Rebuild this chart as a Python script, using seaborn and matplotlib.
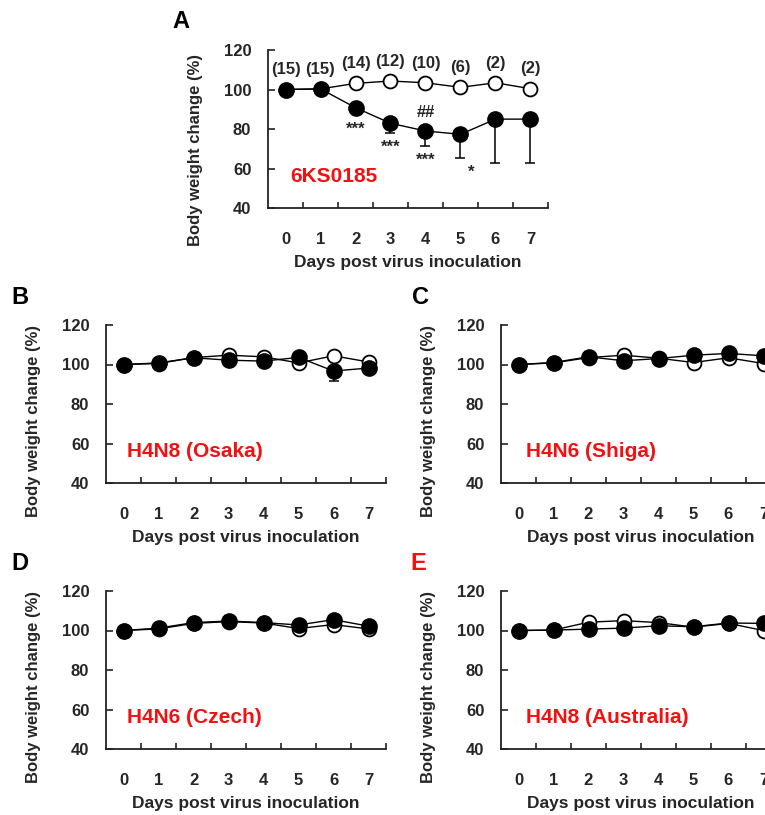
import numpy as np
import pandas as pd
import matplotlib
matplotlib.use("Agg")
import matplotlib.pyplot as plt
import seaborn as sns

# Body weight change (%) of mock (open) and infected (filled) mice
days = [0, 1, 2, 3, 4, 5, 6, 7]

# A - 6KS0185
a_mock = [100, 100.3, 103.1, 104.3, 103.4, 101.1, 103.4, 100.4]
a_inf = [100, 100.3, 90.8, 82.9, 79.0, 77.3, 85.0, 85.0]
a_sd = [0, 0, 1.5, 5.0, 7.5, 12.0, 22.4, 22.0]
a_n = ["(15)", "(15)", "(14)", "(12)", "(10)", "(6)", "(2)", "(2)"]
a_stars = ["", "", "***", "***", "***", "*", "", ""]
a_hash = ["", "", "", "", "##", "", "", ""]

# B - H4N8 (Osaka)
b_mock = [100, 100.5, 103.5, 104.7, 103.9, 100.8, 104.4, 101.3]
b_inf = [100, 100.8, 103.4, 102.2, 101.7, 103.6, 96.7, 98.2]
b_sd = [0, 0, 0, 0, 0, 0, 5.0, 0]

# C - H4N6 (Shiga)
c_mock = [100, 100.8, 103.5, 104.7, 103.2, 101.0, 103.4, 100.5]
c_inf = [100, 101.0, 103.9, 101.9, 103.0, 104.7, 105.6, 104.4]
c_sd = [0, 0, 0, 0, 0, 0, 0, 0]

# D - H4N6 (Czech)
d_mock = [100, 100.8, 103.6, 104.5, 103.8, 101.0, 103.0, 100.8]
d_inf = [100, 101.2, 104.0, 104.8, 104.0, 102.8, 105.5, 102.2]
d_sd = [0, 0, 0, 0, 0, 0, 0, 0]

# E - H4N8 (Australia)
e_mock = [100, 100.2, 104.2, 105.0, 104.0, 101.7, 103.6, 100.0]
e_inf = [100, 100.2, 100.7, 101.2, 102.4, 101.9, 103.8, 103.6]
e_sd = [0, 0, 0, 0, 0, 0, 0, 0]

RED = "#f21010"

sns.set_style("ticks")
plt.rcParams["font.family"] = ["Liberation Sans", "DejaVu Sans"]
plt.rcParams["font.weight"] = "bold"

fig = plt.figure(figsize=(7.65, 8.15), dpi=100)


def make_axes(left, top, width=280, height=158):
    return fig.add_axes([left / 765, 1 - (top + height) / 815, width / 765, height / 815])


def draw_panel(ax, mock, inf, sd, strain, label_x):
    df = pd.DataFrame({"day": days, "mock": mock, "inf": inf})
    ax.errorbar(days, inf, yerr=[sd, [0] * len(sd)], fmt="none", ecolor="black",
                elinewidth=1.1, capsize=3.5, capthick=1.1, zorder=1)
    sns.lineplot(data=df, x="day", y="mock", ax=ax, errorbar=None, color="black",
                 linewidth=1.0, marker="o", markersize=10, markerfacecolor="white",
                 markeredgecolor="black", markeredgewidth=1.3, zorder=2, clip_on=False)
    sns.lineplot(data=df, x="day", y="inf", ax=ax, errorbar=None, color="black",
                 linewidth=1.0, marker="o", markersize=11, markerfacecolor="black",
                 markeredgecolor="black", markeredgewidth=1.0, zorder=3, clip_on=False)

    ax.set_xlim(-0.5, 7.5)
    ax.set_ylim(40, 120)
    ax.set_xticks(days)
    ax.set_xticks(np.arange(0.5, 8, 1), minor=True)
    ax.set_yticks([40, 60, 80, 100, 120])
    ax.tick_params(axis="x", which="major", length=0, pad=17, labelsize=12)
    ax.tick_params(axis="x", which="minor", direction="in", length=4, width=1.2, color="#222")
    ax.tick_params(axis="y", direction="in", length=5, width=1.2, color="#222",
                   pad=12, labelsize=12)
    for lab in ax.get_xticklabels() + ax.get_yticklabels():
        lab.set_fontweight("bold")
    sns.despine(ax=ax)
    for s in ["left", "bottom"]:
        ax.spines[s].set_linewidth(1.3)
        ax.spines[s].set_color("#222")

    ax.set_xlabel("Days post virus inoculation", fontsize=12.5, fontweight="bold")
    ax.set_ylabel("Body weight change (%)", fontsize=12, fontweight="bold")
    ax.xaxis.set_label_coords(0.5, -0.348)
    ax.xaxis.label.set_va("center")
    ax.yaxis.set_label_coords(-0.258, 0.39)
    ax.yaxis.label.set_va("center")

    ax.text(label_x, 56, strain, color=RED, fontsize=15, fontweight="bold",
            ha="left", va="center")


ax_a = make_axes(268, 50)
ax_b = make_axes(106, 325)
ax_c = make_axes(501, 325)
ax_d = make_axes(106, 591)
ax_e = make_axes(501, 591)

draw_panel(ax_a, a_mock, a_inf, a_sd, "6KS0185", 0.13)
draw_panel(ax_b, b_mock, b_inf, b_sd, "H4N8 (Osaka)", 0.1)
draw_panel(ax_c, c_mock, c_inf, c_sd, "H4N6 (Shiga)", 0.2)
draw_panel(ax_d, d_mock, d_inf, d_sd, "H4N6 (Czech)", 0.1)
draw_panel(ax_e, e_mock, e_inf, e_sd, "H4N8 (Australia)", 0.2)
ax_a.yaxis.set_label_coords(-0.258, 0.37)

# group sizes and significance marks in panel A
for d, m, n in zip(days, a_mock, a_n):
    ax_a.text(d, m + 10, n, ha="center", va="center", fontsize=12, fontweight="bold")
for d, v, s, st in zip(days, a_inf, a_sd, a_stars):
    if st:
        dx = 0.3 if st == "*" else 0
        ax_a.text(d + dx, v - max(s, 3.8) - 3.5, st, ha="center", va="top",
                  fontsize=12, fontweight="bold")
for d, v, h in zip(days, a_inf, a_hash):
    if h:
        ax_a.text(d, v + 5.5, h, ha="center", va="bottom", fontsize=12, fontweight="bold")

# panel letters
for x, y, letter, col in [(181, 21, "A", "black"), (20, 298, "B", "black"),
                          (420, 298, "C", "black"), (20, 563, "D", "black"),
                          (418, 563, "E", RED)]:
    fig.text(x / 765, 1 - y / 815, letter, fontsize=17, fontweight="bold",
             ha="center", va="center", color=col)

fig.savefig("out.png", dpi=100)
